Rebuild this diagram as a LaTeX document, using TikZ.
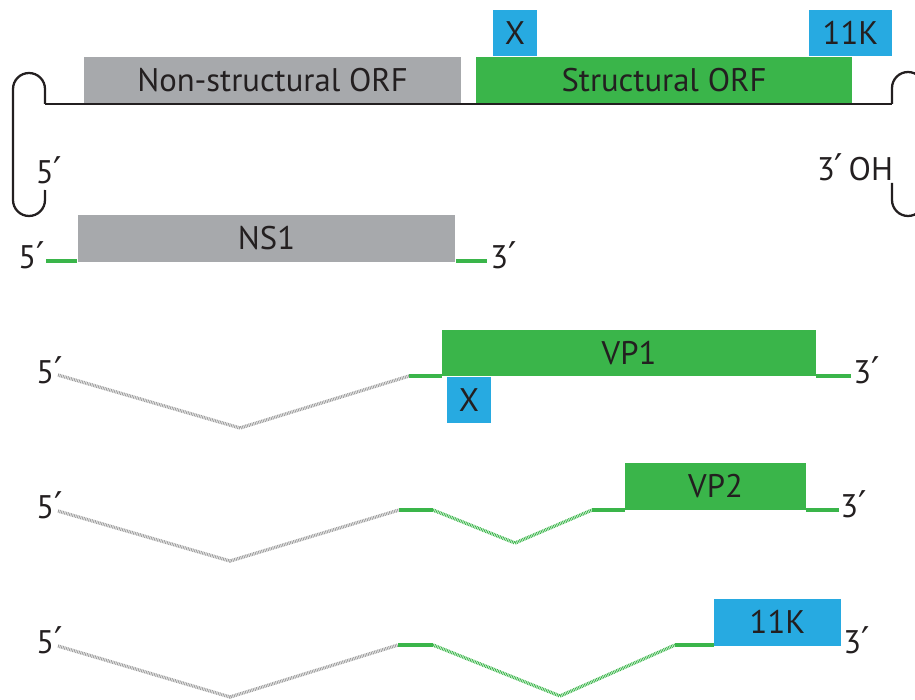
\documentclass[tikz,border=0pt]{standalone}
\usepackage{fontspec}
\setmainfont{PT Sans}
\newfontfamily\primefont{DejaVu Sans}
\usetikzlibrary{positioning}
\definecolor{orfgray}{HTML}{A7A9AC}
\definecolor{orfgreen}{HTML}{3AB54A}
\definecolor{tagblue}{HTML}{27AAE1}
\definecolor{dotgray}{HTML}{9D9D9D}
\definecolor{ink}{HTML}{231F20}
\newcommand{\prm}{{\primefont\fontsize{21}{22}\selectfont ′}}

\begin{document}
\begin{tikzpicture}[
  x=0.02cm, y=-0.02cm,
  every node/.style={text=ink, font=\fontsize{18.6}{22}\selectfont, inner sep=0pt},
  orfbox/.style={minimum height=0.94cm},
  nsbox/.style={orfbox, fill=orfgray},
  sbox/.style={orfbox, fill=orfgreen},
  tagbox/.style={fill=tagblue, minimum height=0.92cm},
  genome/.style={ink, line width=1.3pt},
  exon/.style={orfgreen, line width=1.8pt},
  intron/.style={line width=1.9pt, dash pattern=on 0.5pt off 0.45pt},
]

\clip (0,0) rectangle (915,699);

% Genomic RNA with its hairpin ends
\node[nsbox, minimum width=7.54cm] (nsorf) at (272.5,80.5) {Non-structural ORF};
\node[sbox, minimum width=7.52cm] (sorf) at (664,80.5) {Structural ORF};
\node[tagbox, minimum width=0.88cm] (xtop) at (515,33) {X};
\node[tagbox, minimum width=1.66cm] (ktop) at (850.5,33) {11K};

\coordinate (g5) at (45,104);
\coordinate (g3) at (892,104);
\draw[genome] (g5) -- (g3);
\draw[genome] (g5) -- ++(0,-15) arc[start angle=0, end angle=180, radius=0.32cm]
  -- (13,200) arc[start angle=180, end angle=360, radius=0.32cm] -- (45,190);
\draw[genome] (g3) -- ++(0,-16) arc[start angle=180, end angle=0, radius=0.32cm];
\draw[genome] (892,183) -- (892,200) arc[start angle=180, end angle=360, radius=0.32cm];

\node[anchor=base] (g5lbl) at (49,183) {5\prm};
\node[anchor=base] (g3lbl) at (855,180) {3\prm\,OH};

% NS1 mRNA
\node[nsbox, minimum width=7.56cm] (ns1) at (266.5,238.5) {NS1};
\coordinate (ns1a) at (46,261);
\coordinate (ns1b) at (487,261);
\draw[exon] (ns1a) -- (ns1a -| ns1.west);
\draw[exon] (ns1a -| ns1.east) -- (ns1b);
\node[anchor=base east] (ns1five) at (45,268) {5\prm};
\node[anchor=base west] (ns1three) at (490,268) {3\prm};

% VP1 mRNA
\node[sbox, minimum width=7.48cm] (vp1) at (629,353) {VP1};
\node[tagbox, minimum width=0.88cm, anchor=north] (xvp1) at (469,377) {X};
\coordinate (vp1a) at (58,375);
\coordinate (vp1v) at (240,428);
\coordinate (vp1b) at (409,376);
\coordinate (vp1c) at (851,376);
\draw[intron, dotgray] (vp1a) -- (vp1v) -- (vp1b);
\draw[exon] (vp1b) -- (vp1b -| vp1.west);
\draw[exon] (vp1b -| vp1.east) -- (vp1c);
\node[anchor=base west] (vp1five) at (36,383) {5\prm};
\node[anchor=base west] (vp1three) at (853,383) {3\prm};

% VP2 mRNA
\node[sbox, minimum width=3.62cm] (vp2) at (715.5,486.5) {VP2};
\coordinate (vp2a) at (58,511);
\coordinate (vp2v) at (230,561);
\coordinate (vp2b) at (399,510);
\coordinate (vp2c) at (433,510);
\coordinate (vp2w) at (515,543);
\coordinate (vp2d) at (592,510);
\coordinate (vp2e) at (839,510);
\draw[intron, dotgray] (vp2a) -- (vp2v) -- (vp2b);
\draw[exon] (vp2b) -- (vp2c);
\draw[intron, orfgreen] (vp2c) -- (vp2w) -- (vp2d);
\draw[exon] (vp2d) -- (vp2d -| vp2.west);
\draw[exon] (vp2d -| vp2.east) -- (vp2e);
\node[anchor=base west] (vp2five) at (36,518) {5\prm};
\node[anchor=base west] (vp2three) at (840,517) {3\prm};

% 11K mRNA
\node[tagbox, minimum width=2.54cm, minimum height=0.94cm] (k11) at (777.5,622) {11K};
\coordinate (k11a) at (58,646);
\coordinate (k11v) at (230,697);
\coordinate (k11b) at (398,645);
\coordinate (k11c) at (433,645);
\coordinate (k11w) at (560,696);
\coordinate (k11d) at (675,645);
\draw[intron, dotgray] (k11a) -- (k11v) -- (k11b);
\draw[exon] (k11b) -- (k11c);
\draw[intron, orfgreen] (k11c) -- (k11w) -- (k11d);
\draw[exon] (k11d) -- (k11d -| k11.west);
\node[anchor=base west] (k11five) at (36,653) {5\prm};
\node[anchor=base west] (k11three) at (843,653) {3\prm};

\end{tikzpicture}
\end{document}
